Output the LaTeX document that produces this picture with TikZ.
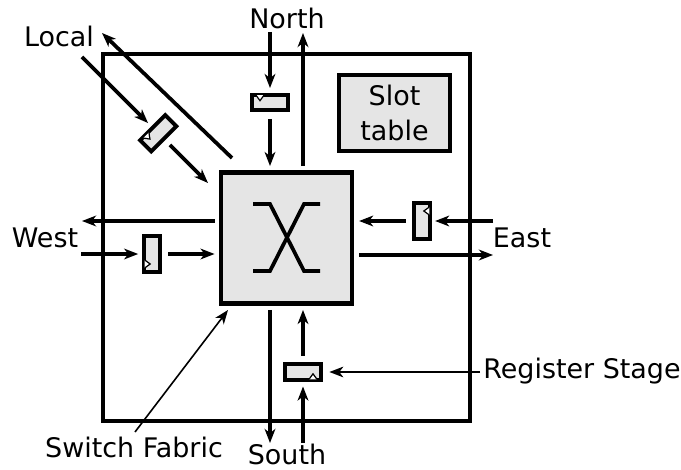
\documentclass[tikz,border=0pt]{standalone}
\usepackage{fontspec}
\setmainfont{DejaVu Sans}
\usetikzlibrary{arrows.meta,positioning}
\newcommand{\clkmark}[3]{\draw[line width=0.9pt, fill=white, shift={(#1.#2)}, rotate=#3] (-14,2.5) -- (-10,8) -- (-6,2.5);}

\begin{document}
\begin{tikzpicture}[
   x=0.75pt, y=-0.75pt,
   wire/.style={line width=2.8pt},
   thin wire/.style={line width=1.2pt},
   reg/.style={draw, line width=2.9pt, fill=black!10, inner sep=0pt, minimum width=26.6pt, minimum height=11.8pt},
   lbl/.style={font=\fontsize{20.2}{26}\selectfont, inner sep=0pt},
   >={Stealth[length=10.5pt, width=8pt, inset=3pt]}]
  \useasboundingbox (0,0) rectangle (681,470);
  \draw[line width=3.4pt] (103,54) rectangle (470,421);
  % switch fabric
  \node[draw, line width=3.4pt, fill=black!10, minimum size=98.5pt, inner sep=0pt] (sw) at (286.5,238) {};
  \draw[wire] (253,204) -- (270,204) -- (304,271) -- (320,271);
  \draw[wire] (253,271) -- (270,271) -- (304,204) -- (320,204);
  % slot table
  \node[draw, line width=3.4pt, fill=black!10, minimum width=83pt, minimum height=57pt, align=center, lbl] (slot) at (394.5,113) {Slot\\table};
  % registers
  \node[reg] (nreg) at (270,102.5) {};
  \node[reg] (sreg) at (303,372) {};
  \node[reg, rotate=90] (ereg) at (422,221) {};
  \node[reg, rotate=90] (wreg) at (152,254) {};
  \node[reg, rotate=45] (lreg) at (158.3,133.3) {};
  \clkmark{nreg}{north}{0}
  \clkmark{sreg}{south}{180}
  \clkmark{ereg}{south}{270}
  \clkmark{wreg}{north}{90}
  \clkmark{lreg}{north}{45}
  % labels
  \node[lbl] (north) at (287,18) {North};
  \node[lbl] (south) at (287,454) {South};
  \node[lbl] (east) at (522,238) {East};
  \node[lbl] (west) at (45,238) {West};
  \node[lbl] (local) at (59,36) {Local};
  \node[lbl] (fabric) at (134,447) {Switch Fabric};
  \node[lbl] (stage) at (582,371) {Register Stage};
  % free ends
  \coordinate (nin) at (270,32);
  \coordinate (nout) at (303,33);
  \coordinate (sin) at (303,443);
  \coordinate (sout) at (270,443);
  \coordinate (ein) at (493,221);
  \coordinate (eout) at (493,255);
  \coordinate (win) at (81,254);
  \coordinate (wout) at (82,221);
  \coordinate (lin) at (82,57);
  \coordinate (lout) at (102,33);
  \coordinate (lsw) at (208,183);
  \coordinate (lsw2) at (232,158);
  \coordinate (ftail) at (135,432);
  \coordinate (ftip) at (228,310);
  \coordinate (stail) at (480,372);
  % connectors
  \draw[->, wire, shorten >=3.5pt] (nin) -- (nreg);
  \draw[->, wire, shorten <=5pt] (nreg) -- ([yshift=3pt]nreg |- sw.north);
  \draw[->, wire] ([yshift=3pt]nout |- sw.north) -- (nout);
  \draw[->, wire, shorten <=5pt] (sreg) -- ([yshift=-3pt]sreg |- sw.south);
  \draw[->, wire, shorten >=3.5pt] (sin) -- (sreg);
  \draw[->, wire] ([yshift=-3pt]sout |- sw.south) -- (sout);
  \draw[->, wire, shorten >=2.5pt] (ein) -- (ereg);
  \draw[->, wire, shorten <=5pt] (ereg) -- ([xshift=3.5pt]ereg -| sw.east);
  \draw[->, wire] ([xshift=3.5pt]eout -| sw.east) -- (eout);
  \draw[->, wire, shorten >=3pt] (win) -- (wreg);
  \draw[->, wire, shorten <=5pt] (wreg) -- ([xshift=-3pt]wreg -| sw.west);
  \draw[->, wire] ([xshift=-3pt]wout -| sw.west) -- (wout);
  \draw[->, wire, shorten >=3.5pt] (lin) -- (lreg);
  \draw[->, wire, shorten <=5pt] (lreg) -- (lsw);
  \draw[->, wire] (lsw2) -- (lout);
  \draw[->, thin wire, shorten >=5pt] (stail) -- (sreg);
  \draw[->, thin wire] (ftail) -- (ftip);
\end{tikzpicture}
\end{document}
